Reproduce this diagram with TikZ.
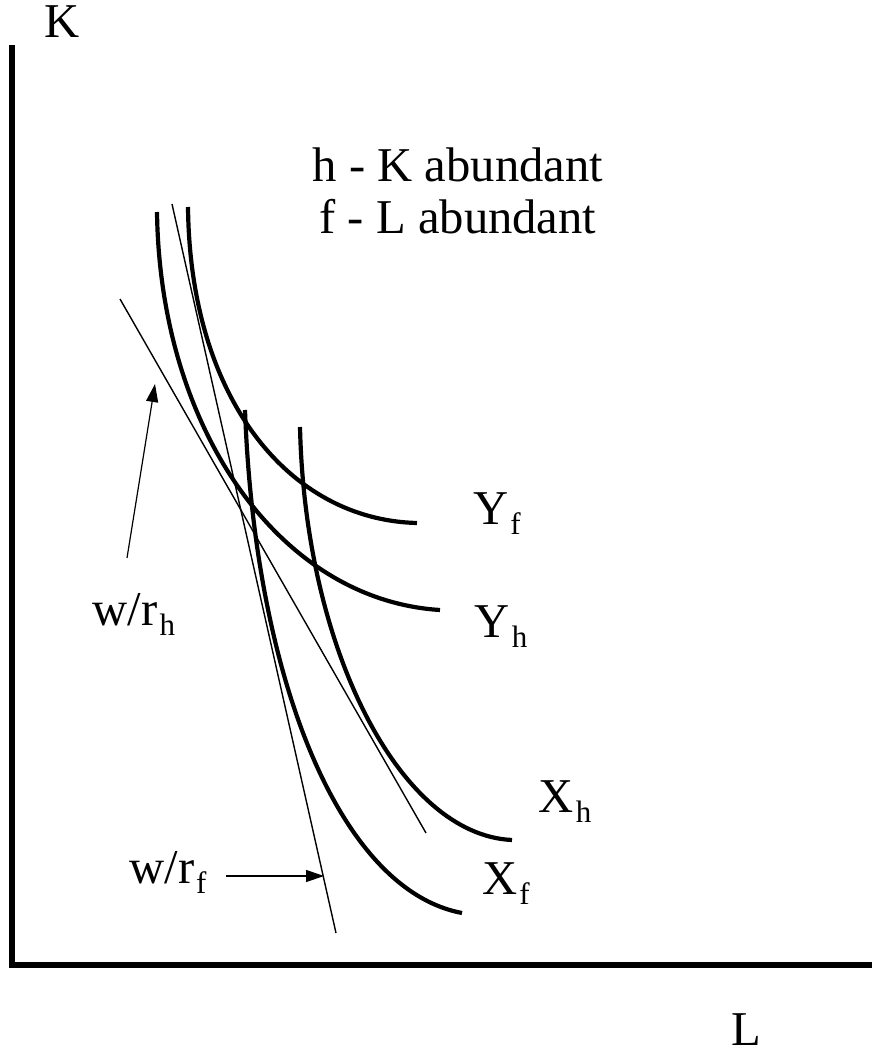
\documentclass[tikz,border=0pt]{standalone}
\usepackage{fontspec}
\setmainfont{Liberation Serif}
\usetikzlibrary{arrows.meta, positioning, calc}

\newcommand{\lowsub}[1]{\kern1pt\raisebox{-5pt}{\fontsize{15.5}{18}\selectfont #1}}

\begin{document}
\begin{tikzpicture}[
    x=0.5pt, y=-0.5pt,
    font=\fontsize{24.3}{29}\selectfont,
    axis/.style={line width=2.6pt},
    iso/.style={line width=2.1pt},
    ratio/.style={line width=0.7pt},
    arr/.style={-{Triangle[length=9pt, width=6pt]}, line width=0.6pt},
    lbl/.style={inner sep=0pt},
]
    \useasboundingbox (0,0) rectangle (872,1060);

    %==================== AXES ====================
    \coordinate (top) at (12,45);
    \coordinate (origin) at (12,965);
    \coordinate (right) at (872,965);
    \draw[axis] (top) -- (origin) -- (right);
    \node[lbl] (klab) at (62,22) {K};
    \node[lbl] (llab) at (746,1030) {L};

    %==================== LEGEND ====================
    \node[lbl] (hnote) at (458,165) {h - K abundant};
    \node[lbl, below=0.9cm of hnote.center, anchor=center] (fnote) {f - L abundant};

    %==================== ISOQUANTS ====================
    \draw[iso] (157,212) .. controls (160,430) and (280,600) .. (440,610);
    \draw[iso] (188,207) .. controls (190,400) and (290,520) .. (417,523);
    \draw[iso] (300,427) .. controls (305,650) and (400,835) .. (512,840);
    \draw[iso] (245,410) .. controls (255,680) and (340,890) .. (462,913);

    \node[lbl] (yf) at (497,514) {Y\lowsub{f}};
    \node[lbl] (yh) at (501,627) {Y\lowsub{h}};
    \node[lbl] (xh) at (565,802) {X\lowsub{h}};
    \node[lbl] (xf) at (506,884) {X\lowsub{f}};

    %==================== FACTOR PRICE LINES ====================
    \coordinate (rh1) at (120,299);
    \coordinate (rh2) at (426,833);
    \draw[ratio] (rh1) -- (rh2);
    \coordinate (rf1) at (172,204);
    \coordinate (rf2) at (336,933);
    \draw[ratio] (rf1) -- (rf2);

    %==================== LABELS WITH ARROWS ====================
    \node[lbl] (wrh) at (134,614) {w/r\lowsub{h}};
    \coordinate (wrhtail) at (127,558);
    \coordinate (wrhtip) at (155,384);
    \draw[arr] (wrhtail) -- (wrhtip);

    \node[lbl] (wrf) at (168,872) {w/r\lowsub{f}};
    \coordinate (wrftail) at (226,876);
    \coordinate (wrftip) at (324,876);
    \draw[arr] (wrftail) -- (wrftip);

\end{tikzpicture}
\end{document}
